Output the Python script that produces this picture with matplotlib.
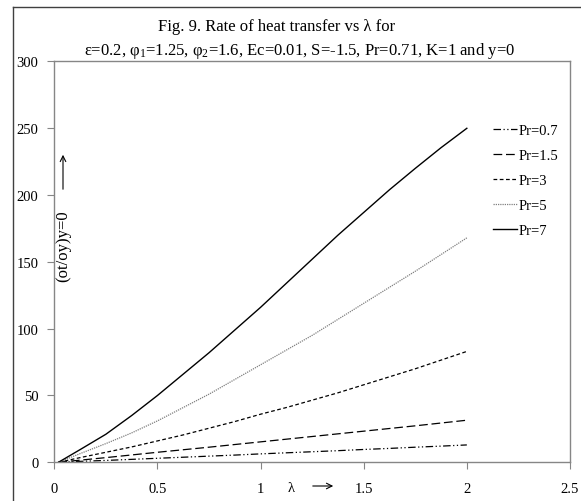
import matplotlib
matplotlib.use('Agg')
import matplotlib.pyplot as plt
from matplotlib.lines import Line2D

plt.rcParams['font.family'] = ['Liberation Serif', 'DejaVu Serif']
plt.rcParams['mathtext.fontset'] = 'custom'
plt.rcParams['mathtext.rm'] = 'Liberation Serif'
plt.rcParams['mathtext.default'] = 'rm'

# ====================== DATA ======================
lam = [0.02, 0.125, 0.25, 0.375, 0.5, 0.625, 0.75, 0.875, 1.0,
       1.125, 1.25, 1.375, 1.5, 1.625, 1.75, 1.875, 2.0]
pr_07 = [0, 0.7, 1.4, 2.2, 3.0, 3.8, 4.6, 5.4, 6.3, 7.1, 7.9, 8.7, 9.6, 10.4, 11.3, 12.1, 13.0]
pr_15 = [0, 1.6, 3.5, 5.5, 7.5, 9.4, 11.3, 13.3, 15.3, 17.3, 19.3, 21.3, 23.3, 25.3, 27.3, 29.4, 31.5]
pr_3 = [0, 3.5, 7.5, 11.5, 16, 20.5, 25.5, 30.5, 36, 41, 46.5, 52, 58, 64, 70, 76.5, 83]
pr_5 = [0, 6.5, 14, 22, 31, 41, 51, 62, 73, 84, 95, 107, 119, 131, 143, 155.5, 168]
pr_7 = [0, 9.5, 21, 35, 50, 66, 82, 99, 116, 134, 152, 170, 187, 204, 220, 235.5, 250]

labels = ['Pr=0.7', 'Pr=1.5', 'Pr=3', 'Pr=5', 'Pr=7']
series = [pr_07, pr_15, pr_3, pr_5, pr_7]
xticks = [0, 0.5, 1, 1.5, 2, 2.5]
xtick_labels = ['0', '0.5', '1', '1.5', '2', '2.5']
yticks = [0, 50, 100, 150, 200, 250, 300]

styles = [
    dict(color='black', ls=(0, (6, 2, 1, 2, 1, 2)), lw=0.9),
    dict(color='black', ls=(0, (7, 3)), lw=0.9),
    dict(color='black', ls=(0, (3, 2)), lw=0.9),
    dict(color='#808080', ls=(0, (1, 0.8)), lw=0.9),
    dict(color='black', ls='-', lw=1.0),
]

fig = plt.figure(figsize=(5.81, 5.02), dpi=100)
ax = fig.add_axes([0.0935, 0.0771, 0.8875, 0.7984])

for ys, lab, st in zip(series, labels, styles):
    ax.plot(lam, ys, label=lab, **st)

ax.set_xlim(0, 2.5)
ax.set_ylim(0, 300)
ax.set_xticks(xticks)
ax.set_xticklabels(xtick_labels)
ax.set_yticks(yticks)
for s in ax.spines.values():
    s.set_color('#868686')
    s.set_linewidth(1.0)
ax.tick_params(axis='both', direction='out', length=5, color='#868686', labelsize=10.5)
ax.tick_params(axis='x', pad=9)
ax.tick_params(axis='y', pad=6.5)

ax.legend(loc='upper left', bbox_to_anchor=(0.850, 0.845), frameon=False, fontsize=10.5,
          handlelength=1.65, handletextpad=0.1, labelspacing=0.82, borderaxespad=0, borderpad=0)

# titles
fig.text(277 / 581, 1 - 27 / 502, 'Fig. 9. Rate of heat transfer vs λ for', ha='center', va='center', fontsize=12)
fig.text(299.5 / 581, 1 - 51 / 502,
         'ε=0.2, φ$_1$=1.25, φ$_2$=1.6, Ec=0.01, S=-1.5, Pr=0.71, K=1 and y=0',
         ha='center', va='center', fontsize=12)

# y label inside plot with arrow
fig.text(63 / 581, 1 - 246 / 502, '(ot/oy)y=0', rotation=90, ha='center', va='center', fontsize=12)
ax.annotate('', xy=(63, 502 - 153), xytext=(63, 502 - 193), xycoords='figure pixels',
            textcoords='figure pixels', arrowprops=dict(arrowstyle='->', lw=0.8, color='black'))

# x label with arrow
fig.text(291 / 581, 1 - 489 / 502, 'λ', ha='center', va='center', fontsize=10.5)
ax.annotate('', xy=(336, 502 - 487), xytext=(310, 502 - 487), xycoords='figure pixels',
            textcoords='figure pixels', arrowprops=dict(arrowstyle='->', lw=0.8, color='black'))

# chart-area frame (cut off at right and bottom)
fig.add_artist(Line2D([13 / 581, 13 / 581], [-0.1, 1 - 8 / 502], transform=fig.transFigure, color='#404040', lw=1.0))
fig.add_artist(Line2D([13 / 581, 1.1], [1 - 8 / 502, 1 - 8 / 502], transform=fig.transFigure, color='#404040', lw=1.0))

plt.savefig('out.png', dpi=100)
